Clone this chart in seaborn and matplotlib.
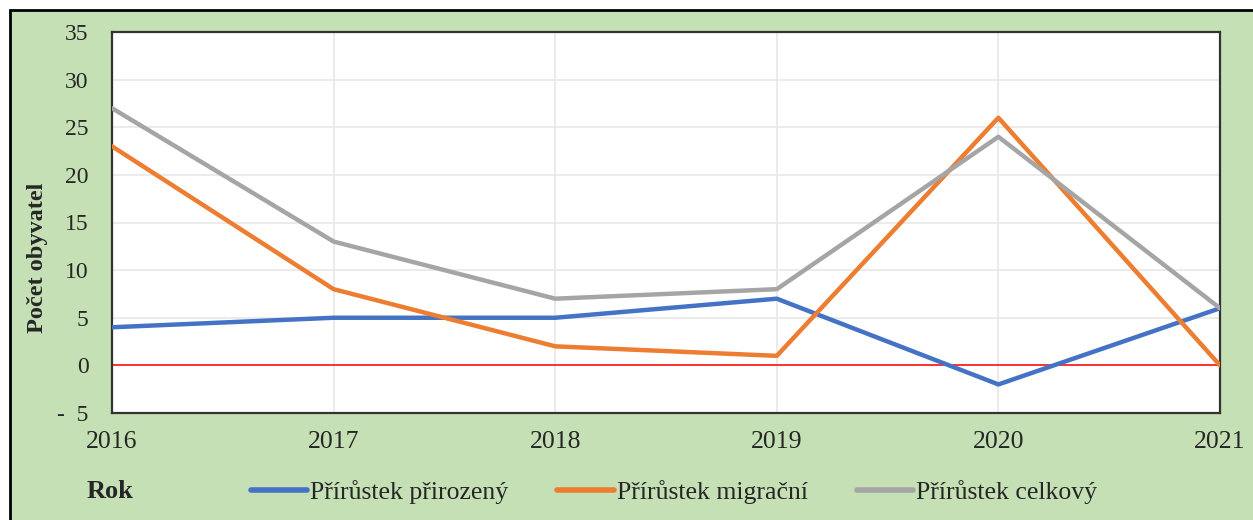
import pandas as pd
import matplotlib.pyplot as plt
import matplotlib.patches as patches
import seaborn as sns

# Data
years = [2016, 2017, 2018, 2019, 2020, 2021]
prirozeny = [4, 5, 5, 7, -2, 6]
migracni = [23, 8, 2, 1, 26, 0]
celkovy = [27, 13, 7, 8, 24, 6]

series_names = ['Přírůstek přirozený', 'Přírůstek migrační', 'Přírůstek celkový']
series_colors = ['#4472C4', '#ED7D31', '#A5A5A5']
y_ticks = [-5, 0, 5, 10, 15, 20, 25, 30, 35]
y_tick_labels = ['-  5', '0', '5', '10', '15', '20', '25', '30', '35']


def main():
    sns.set_style('white')
    plt.rcParams['font.family'] = ['Liberation Serif', 'DejaVu Serif']

    df = pd.DataFrame({
        'Rok': years * 3,
        'Hodnota': prirozeny + migracni + celkovy,
        'Serie': [series_names[0]] * len(years) + [series_names[1]] * len(years)
                 + [series_names[2]] * len(years),
    })

    fig = plt.figure(figsize=(12.53, 5.2), dpi=100)
    fig.patch.set_facecolor('white')
    # green chart area with black frame (cropped on right/bottom)
    frame = patches.Rectangle((10 / 1253, -0.1), 1.2, 1 - 10 / 520 + 0.1,
                              transform=fig.transFigure, facecolor='#C5E0B4',
                              edgecolor='black', linewidth=2, zorder=-10)
    fig.patches.append(frame)

    ax = fig.add_axes([112 / 1253, 1 - 413 / 520, (1220 - 112) / 1253, (413 - 32) / 520])
    ax.set_facecolor('white')

    sns.lineplot(data=df, x='Rok', y='Hodnota', hue='Serie', hue_order=series_names,
                 palette=series_colors, linewidth=3.2, ax=ax, legend=True, zorder=3)

    ax.axhline(0, color='#FF0000', linewidth=1.1, zorder=2)

    ax.set_xlim(years[0], years[-1])
    ax.set_ylim(-5, 35)
    ax.set_xticks(years)
    ax.set_xticklabels([str(y) for y in years], fontsize=18.5)
    ax.set_yticks(y_ticks)
    ax.set_yticklabels(y_tick_labels, fontsize=17)
    ax.tick_params(axis='x', length=0, pad=13)
    ax.tick_params(axis='y', length=0, pad=17)
    ax.grid(True, color='#E8E8E8', linewidth=1.2, zorder=0)
    ax.set_axisbelow(True)
    for sp in ax.spines.values():
        sp.set_color('#333333')
        sp.set_linewidth(1.6)

    ax.set_xlabel('')
    ax.set_ylabel('Počet obyvatel', fontsize=17.5, fontweight='bold')
    ax.yaxis.set_label_coords(-0.0575, 0.407)

    handles, labels = ax.get_legend_handles_labels()
    ax.get_legend().remove()
    for h in handles:
        h.set_linewidth(4)
    fig.legend(handles, labels, loc='center', bbox_to_anchor=(674 / 1253, 1 - 492 / 520),
               ncol=3, frameon=False, fontsize=18.5, handlelength=2.2,
               handletextpad=0.12, columnspacing=1.9)

    fig.text(87 / 1253, 1 - 492 / 520, 'Rok', fontsize=19, fontweight='bold',
             ha='left', va='center')

    fig.savefig('out.png', dpi=100)
    plt.close(fig)


if __name__ == '__main__':
    main()
